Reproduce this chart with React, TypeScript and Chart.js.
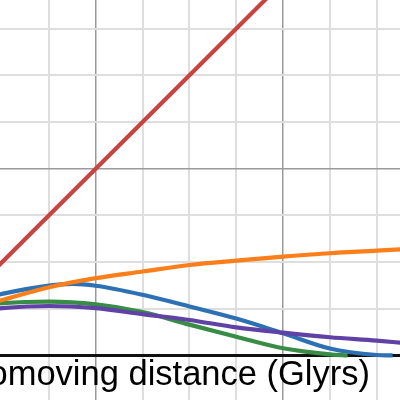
import React, { useEffect, useRef } from "react";
import { Chart, registerables } from "chart.js";

Chart.register(...registerables);

// Grid positions (Glyrs on x, velocity-like units on y)
const xGridValues = [15, 20, 25, 30, 35, 40, 45, 50];
const yGridValues = [0, 5, 10, 15, 20, 25, 30, 35];
const xMin = 9.77;
const xMax = 52.49;
const yMin = -4.77;
const yMax = 38.07;

const axisLabel = "Comoving distance (Glyrs)";

// Series
const redX = [5, 45];
const redY = [5, 45];

const orangeX = [9, 10, 15, 20, 25, 30, 35, 40, 45, 50, 53];
const orangeY = [5.65, 5.93, 7.3, 8.28, 8.99, 9.69, 10.16, 10.58, 10.95, 11.22, 11.4];

const blueX = [9, 10, 15, 17.5, 20, 25, 30, 35, 40, 45, 50, 51.7];
const blueY = [6.35, 6.6, 7.48, 7.66, 7.47, 6.5, 5.25, 3.95, 2.38, 0.75, 0.05, 0];

const greenX = [9, 10, 15, 20, 25, 30, 35, 40, 45, 46.9];
const greenY = [5.5, 5.6, 5.76, 5.47, 4.65, 3.3, 2.0, 0.77, 0.12, 0];

const purpleX = [9, 10, 15, 20, 25, 30, 35, 40, 45, 50, 53];
const purpleY = [4.95, 5.07, 5.3, 5.06, 4.42, 3.8, 3.01, 2.44, 1.95, 1.59, 1.33];

const toPts = (xs: number[], ys: number[]) => xs.map((x, i) => ({ x, y: ys[i] }));

const labelPlugin = {
  id: "axisLabelOverlay",
  afterDraw(chart: any) {
    const ctx = chart.ctx;
    ctx.save();
    ctx.font = '34.5px "Liberation Sans", Arial, sans-serif';
    ctx.fillStyle = "#000";
    ctx.textAlign = "right";
    ctx.textBaseline = "alphabetic";
    ctx.fillText(axisLabel, 370, 384.5);
    ctx.restore();
  },
};

export default function App() {
  const ref = useRef<HTMLCanvasElement | null>(null);
  useEffect(() => {
    if (!ref.current) return;
    const mk = (label: string, xs: number[], ys: number[], color: string, order: number) => ({
      label,
      data: toPts(xs, ys),
      borderColor: color,
      backgroundColor: color,
      borderWidth: 4.2,
      pointRadius: 0,
      fill: false,
      cubicInterpolationMode: "monotone" as const,
      order,
    });
    const chart = new Chart(ref.current, {
      type: "line",
      data: {
        datasets: [
          mk("red", redX, redY, "#c74440", 5),
          mk("blue", blueX, blueY, "#2d70b3", 4),
          mk("green", greenX, greenY, "#388c46", 3),
          mk("purple", purpleX, purpleY, "#6042a6", 2),
          mk("orange", orangeX, orangeY, "#fa7e19", 1),
        ],
      },
      options: {
        animation: false,
        responsive: false,
        devicePixelRatio: 1,
        layout: { padding: 0 },
        plugins: { legend: { display: false }, tooltip: { enabled: false }, title: { display: false } },
        scales: {
          x: {
            type: "linear",
            min: xMin,
            max: xMax,
            afterBuildTicks: (axis: any) => {
              axis.ticks = xGridValues.map((v) => ({ value: v }));
            },
            ticks: { display: false },
            border: { display: false },
            grid: {
              drawTicks: false,
              color: (c: any) => (c.tick && c.tick.value % 20 === 0 ? "#9a9a9a" : "#dedede"),
              lineWidth: (c: any) => (c.tick && c.tick.value % 20 === 0 ? 1.5 : 2),
            },
          },
          y: {
            type: "linear",
            min: yMin,
            max: yMax,
            afterBuildTicks: (axis: any) => {
              axis.ticks = yGridValues.map((v) => ({ value: v }));
            },
            ticks: { display: false },
            border: { display: false },
            grid: {
              drawTicks: false,
              color: (c: any) =>
                c.tick && c.tick.value === 0 ? "#111" : c.tick && c.tick.value % 20 === 0 ? "#9a9a9a" : "#dedede",
              lineWidth: (c: any) => (c.tick && c.tick.value === 0 ? 3 : c.tick && c.tick.value % 20 === 0 ? 1.5 : 2),
            },
          },
        },
      },
      plugins: [labelPlugin],
    });
    return () => chart.destroy();
  }, []);
  return (
    <div style={{ position: "fixed", left: 0, top: 0, width: 400, height: 400, background: "#fff" }}>
      <canvas ref={ref} width={400} height={400} style={{ width: 400, height: 400, display: "block" }} />
    </div>
  );
}
